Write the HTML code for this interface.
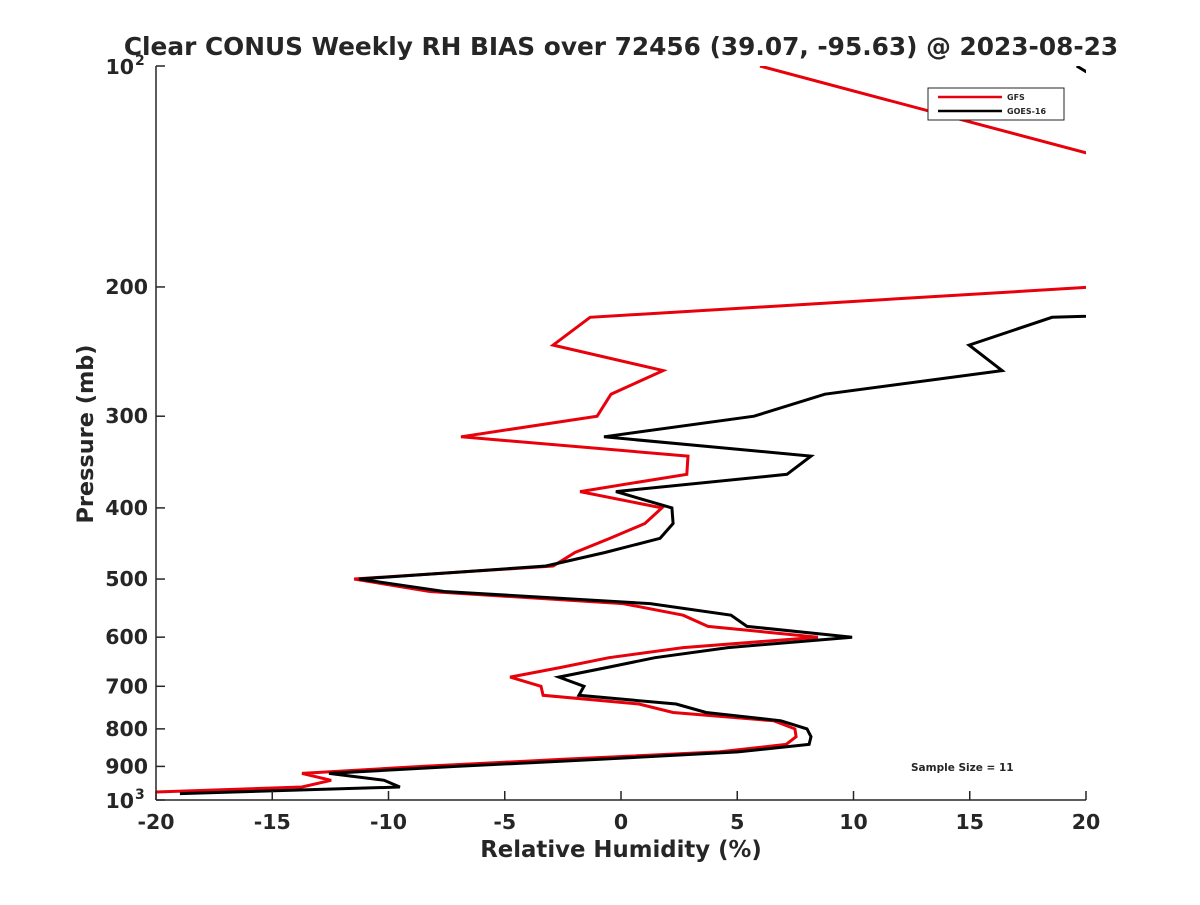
<!DOCTYPE html>
<html><head><meta charset="utf-8"><style>
body{margin:0;background:#fff;}
svg text{font-family:"DejaVu Sans","Liberation Sans",sans-serif;font-weight:bold;fill:#262626;}
</style></head><body>
<svg id="chart" width="1200" height="900" viewBox="0 0 1200 900">
<defs><clipPath id="plotclip"><rect x="156" y="66" width="930" height="734"/></clipPath></defs>
<text x="621" y="55" text-anchor="middle" font-size="24.8" fill="#000">Clear CONUS Weekly RH BIAS over 72456 (39.07, -95.63) @ 2023-08-23</text>
<g id="series" clip-path="url(#plotclip)"></g>
<g id="axes"></g>
<g>
<rect x="928" y="88" width="136" height="32" fill="#fff" stroke="#262626" stroke-width="1"/>
<line x1="938" y1="97" x2="1002" y2="97" stroke="#e8000b" stroke-width="2.5"/>
<text x="1007" y="100" font-size="8">GFS</text>
<line x1="938" y1="111" x2="1002" y2="111" stroke="#000" stroke-width="2.5"/>
<text x="1007" y="114" font-size="8">GOES-16</text>
</g>
<text x="911" y="771" font-size="10.5" fill="#000">Sample Size = 11</text>
<text x="621" y="857" text-anchor="middle" font-size="22.8">Relative Humidity (%)</text>
<text transform="translate(93,434) rotate(-90)" text-anchor="middle" font-size="22.4">Pressure (mb)</text>
</svg>
<script>
const pressures=[100,140,200,220,240,260,280,300,320,340,360,380,400,420,440,460,480,500,520,540,560,580,600,620,640,660,680,700,720,740,760,780,800,820,840,860,880,900,920,940,960,980];
const gfsBias=[5.98,23.3,20.3,-1.33,-2.92,1.81,-0.43,-1.03,-6.88,2.88,2.83,-1.76,1.76,1.03,-0.47,-1.98,-2.92,-11.48,-8.22,0.09,2.67,3.74,8.47,2.67,-0.52,-2.6,-4.77,-3.44,-3.35,0.77,2.24,6.58,7.48,7.53,7.10,4.22,-2.5,-8.56,-13.72,-12.47,-13.72,-22];
const goesBias=[19.6,27.2,60,18.54,14.97,16.39,8.77,5.72,-0.73,8.17,7.14,-0.22,2.19,2.24,1.68,-0.69,-3.23,-11.27,-7.61,1.25,4.73,5.42,9.94,4.60,1.46,-0.6,-2.67,-1.59,-1.81,2.37,3.66,6.88,8.0,8.17,8.09,5.03,-0.9,-7.1,-12.56,-10.19,-9.51,-18.97];
const xTicks=[-20,-15,-10,-5,0,5,10,15,20];
const yTicks=[100,200,300,400,500,600,700,800,900,1000];
const yTickLabels=["10|2","200","300","400","500","600","700","800","900","10|3"];
const NS="http://www.w3.org/2000/svg";
const X=v=>156+(v+20)*930/40;
const Y=p=>66+734*Math.log10(p/100);
function mk(tag,at,parent){const e=document.createElementNS(NS,tag);for(const k in at)e.setAttribute(k,at[k]);parent.appendChild(e);return e;}
const sg=document.getElementById('series');
function line(vals,color,name){
  const d=vals.map((v,i)=>(i?'L':'M')+X(v).toFixed(1)+','+Y(pressures[i]).toFixed(1)).join(' ');
  const p=mk('path',{d:d,fill:'none',stroke:color,'stroke-width':3,'stroke-linejoin':'miter'},sg);
  
  
}
line(gfsBias,'#e8000b','gfs-line');
line(goesBias,'#000','goes16-line');
const ag=document.getElementById('axes');
const xa=mk('line',{x1:156,y1:800,x2:1086,y2:800,stroke:'#262626','stroke-width':1.5},ag);


const ya=mk('line',{x1:156,y1:66,x2:156,y2:800,stroke:'#262626','stroke-width':1.5},ag);


xTicks.forEach(t=>{
  const l=mk('line',{x1:X(t),y1:800,x2:X(t),y2:791,stroke:'#262626','stroke-width':1.5},ag);
  
  
  const tx=mk('text',{x:X(t),y:829,'text-anchor':'middle','font-size':20.5},ag);
  tx.textContent=t;
  
  
});
yTicks.forEach((p,i)=>{
  const l=mk('line',{x1:156,y1:Y(p),x2:165,y2:Y(p),stroke:'#262626','stroke-width':1.5},ag);
  
  
  const lab=yTickLabels[i];
  if(lab.indexOf('|')>=0){
    const parts=lab.split('|');
    const tx=mk('text',{x:134,y:Y(p)+8,'text-anchor':'end','font-size':20.5},ag);
    tx.textContent=parts[0];
    
    
    const sup=mk('text',{x:135,y:Y(p)-1,'font-size':14},ag);
    sup.textContent=parts[1];
    
    
  } else {
    const tx=mk('text',{x:148,y:Y(p)+7,'text-anchor':'end','font-size':20.5},ag);
    tx.textContent=lab;
    
    
  }
});
</script>
</body></html>
